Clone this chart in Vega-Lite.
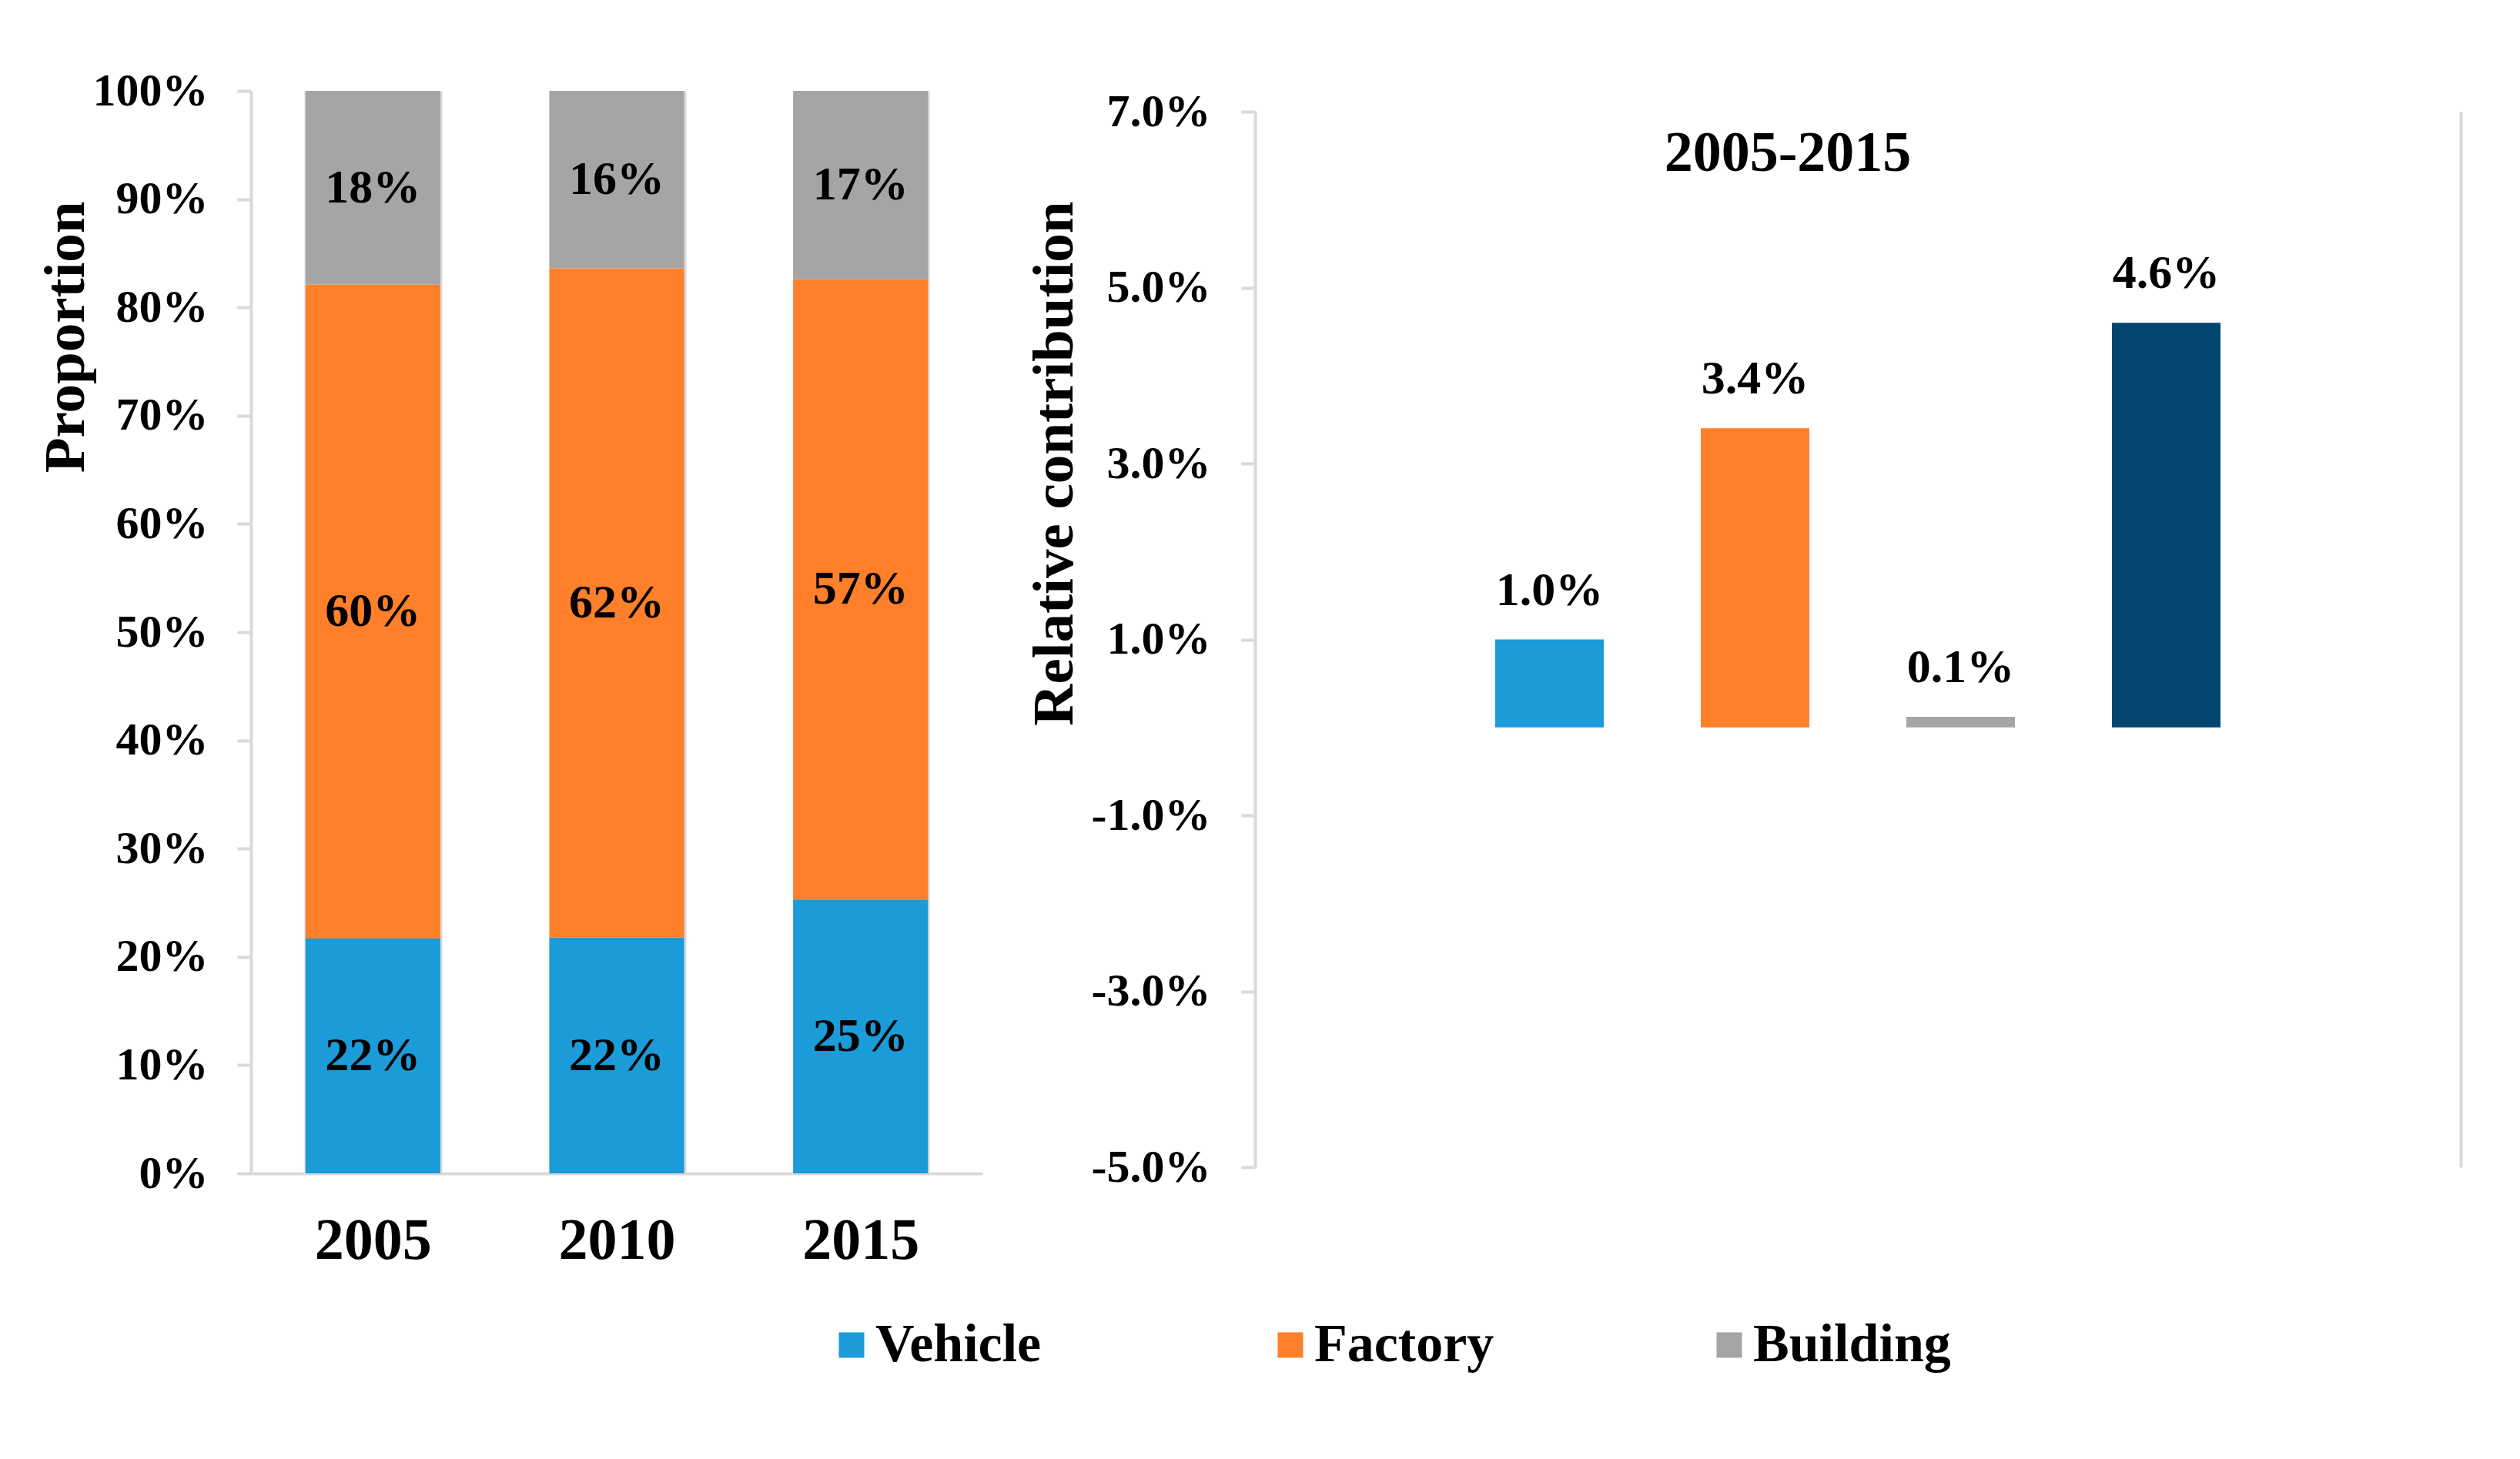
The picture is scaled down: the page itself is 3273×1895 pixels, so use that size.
{
  "$schema": "https://vega.github.io/schema/vega-lite/v6.json",
  "background": "white",
  "padding": {"left": 47, "top": 88, "right": 5, "bottom": 5},
  "spacing": 354,
  "bounds": "flush",
  "config": {
    "font": "Liberation Serif",
    "view": {"stroke": null},
    "axis": {
      "labelFont": "Liberation Serif",
      "labelFontWeight": "bold",
      "labelColor": "#000000",
      "titleFont": "Liberation Serif",
      "titleFontWeight": "bold",
      "titleColor": "#000000",
      "domainColor": "#D9D9D9",
      "tickColor": "#D9D9D9",
      "gridColor": "#D9D9D9",
      "domainWidth": 4,
      "tickWidth": 4,
      "gridWidth": 4
    },
    "legend": {
      "labelFont": "Liberation Serif",
      "labelFontWeight": "bold",
      "labelColor": "#000000"
    }
  },
  "resolve": {"scale": {"color": "independent"}},
  "hconcat": [
    {
      "width": 950,
      "height": 1406,
      "data": {
        "values": [
          {"year": "2005", "source": "Vehicle", "share": 0.217},
          {"year": "2005", "source": "Factory", "share": 0.604},
          {"year": "2005", "source": "Building", "share": 0.179},
          {"year": "2010", "source": "Vehicle", "share": 0.218},
          {"year": "2010", "source": "Factory", "share": 0.618},
          {"year": "2010", "source": "Building", "share": 0.164},
          {"year": "2015", "source": "Vehicle", "share": 0.253},
          {"year": "2015", "source": "Factory", "share": 0.573},
          {"year": "2015", "source": "Building", "share": 0.174}
        ]
      },
      "encoding": {
        "x": {
          "field": "year",
          "type": "nominal",
          "scale": {"paddingInner": 0.447, "paddingOuter": 0.2235},
          "axis": {
            "title": null,
            "labelAngle": 0,
            "labelFontSize": 76,
            "labelPadding": 50,
            "ticks": false,
            "grid": true,
            "tickBand": "extent"
          }
        }
      },
      "layer": [
        {
          "mark": {"type": "bar"},
          "encoding": {
            "y": {
              "field": "share",
              "type": "quantitative",
              "stack": "zero",
              "scale": {"domain": [0, 1]},
              "axis": {
                "title": "Proportion",
                "format": ".0%",
                "values": [0, 0.1, 0.2, 0.3, 0.4, 0.5, 0.6, 0.7, 0.8, 0.9, 1],
                "grid": false,
                "tickSize": 18,
                "labelPadding": 38,
                "labelFontSize": 60,
                "titleFontSize": 75,
                "titleAngle": -90,
                "titleAlign": "right",
                "titleBaseline": "middle",
                "titleX": -241,
                "titleY": 143
              }
            },
            "color": {
              "field": "source",
              "type": "nominal",
              "scale": {
                "domain": ["Vehicle", "Factory", "Building"],
                "range": ["#1B9BD7", "#FF7F2A", "#A5A5A5"]
              },
              "legend": {
                "title": null,
                "orient": "none",
                "direction": "horizontal",
                "legendX": 745,
                "legendY": 1594,
                "padding": 0,
                "symbolType": "square",
                "symbolSize": 1089,
                "symbolStrokeWidth": 0,
                "labelFontSize": 70,
                "labelOffset": -4,
                "labelLimit": 600,
                "gridAlign": "all",
                "columnPadding": 247
              }
            },
            "order": {"field": "source", "type": "nominal", "sort": "descending"}
          }
        },
        {
          "mark": {"type": "text", "fontSize": 62, "fontWeight": "bold", "color": "#000000", "baseline": "middle"},
          "encoding": {
            "y": {"field": "share", "type": "quantitative", "stack": "zero", "bandPosition": 0.5},
            "detail": {"field": "source", "type": "nominal"},
            "order": {"field": "source", "type": "nominal", "sort": "descending"},
            "text": {"field": "share", "type": "quantitative", "format": ".0%"}
          }
        }
      ]
    },
    {
      "width": 1566,
      "height": 1406,
      "title": {
        "text": "2005-2015",
        "fontSize": 74,
        "fontWeight": "bold",
        "font": "Liberation Serif",
        "color": "#000000",
        "anchor": "middle",
        "baseline": "alphabetic",
        "offset": 0,
        "dx": -91,
        "dy": 181
      },
      "data": {
        "values": [
          {"source": "Vehicle", "value": 0.010},
          {"source": "Factory", "value": 0.034},
          {"source": "Building", "value": 0.0012},
          {"source": "Total", "value": 0.046}
        ]
      },
      "encoding": {
        "x": {
          "field": "source",
          "type": "nominal",
          "scale": {
            "domain": ["Vehicle", "Factory", "Building", "Total"],
            "range": [45, 1521],
            "paddingInner": 0.472,
            "paddingOuter": 1
          },
          "axis": null
        }
      },
      "layer": [
        {
          "mark": {"type": "bar"},
          "encoding": {
            "y": {
              "field": "value",
              "type": "quantitative",
              "scale": {"domain": [-0.05, 0.07], "range": [1398, 27], "nice": false, "zero": false},
              "axis": {
                "title": "Relative contribution",
                "format": ".1%",
                "labelExpr": "replace(datum.label, '\u2212', '-')",
                "values": [-0.05, -0.03, -0.01, 0.01, 0.03, 0.05, 0.07],
                "grid": false,
                "tickSize": 18,
                "labelPadding": 40,
                "labelFontSize": 60,
                "titleFontSize": 75,
                "titleAngle": -90,
                "titleAlign": "right",
                "titleBaseline": "middle",
                "titleX": -261,
                "titleY": 143
              }
            },
            "color": {
              "field": "source",
              "type": "nominal",
              "scale": {
                "domain": ["Vehicle", "Factory", "Building", "Total"],
                "range": ["#1B9BD7", "#FF7F2A", "#A5A5A5", "#02456F"]
              },
              "legend": null
            }
          }
        },
        {
          "mark": {"type": "text", "fontSize": 62, "fontWeight": "bold", "color": "#000000", "baseline": "alphabetic", "dy": -45},
          "encoding": {
            "y": {
              "field": "value",
              "type": "quantitative",
              "scale": {"domain": [-0.05, 0.07], "range": [1398, 27], "nice": false, "zero": false},
              "axis": null
            },
            "text": {"field": "value", "type": "quantitative", "format": ".1%"}
          }
        },
        {
          "mark": {"type": "rule", "color": "#D9D9D9", "strokeWidth": 4},
          "encoding": {
            "y": {
              "datum": 0,
              "type": "quantitative",
              "scale": {"domain": [-0.05, 0.07], "range": [1398, 27], "nice": false, "zero": false},
              "axis": {
                "orient": "right",
                "labels": false,
                "ticks": false,
                "title": null,
                "values": [0]
              }
            }
          }
        }
      ],
      "resolve": {"axis": {"y": "independent"}}
    }
  ]
}
